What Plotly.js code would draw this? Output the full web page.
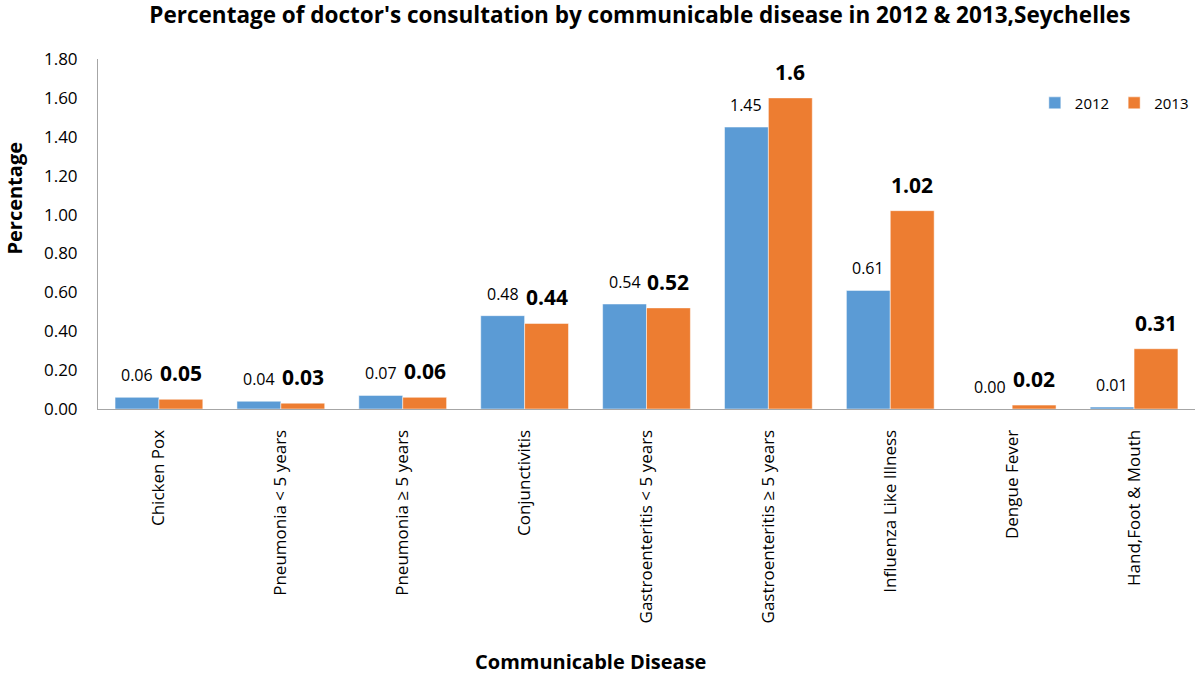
<!DOCTYPE html>
<html>
<head>
<meta charset="utf-8">
<script src="https://cdn.plot.ly/plotly-3.0.1.min.js"></script>
<style>
  html, body { margin: 0; padding: 0; background: #fff; }
  #chart { width: 1196px; height: 675px; }
</style>
</head>
<body>
<div id="chart"></div>
<script>
// Communicable disease consultations, Seychelles
const diseases = [
  "Chicken Pox",
  "Pneumonia < 5 years",
  "Pneumonia \u2265 5 years",
  "Conjunctivitis",
  "Gastroenteritis < 5 years",
  "Gastroenteritis \u2265 5 years",
  "Influenza Like Illness",
  "Dengue Fever",
  "Hand,Foot & Mouth"
];
const pct2012 = [0.06, 0.04, 0.07, 0.48, 0.54, 1.45, 0.61, 0.00, 0.01];
const pct2013 = [0.05, 0.03, 0.06, 0.44, 0.52, 1.6, 1.02, 0.02, 0.31];
const labels2012 = ["0.06", "0.04", "0.07", "0.48", "0.54", "1.45", "0.61", "0.00", "0.01"];
const labels2013 = ["0.05", "0.03", "0.06", "0.44", "0.52", "1.6", "1.02", "0.02", "0.31"];
const yTicks = [0, 0.2, 0.4, 0.6, 0.8, 1.0, 1.2, 1.4, 1.6, 1.8];

const FONT = "Open Sans, Calibri, sans-serif";
const BLUE = "#5b9bd5";
const ORANGE = "#ed7d31";

const margin = { l: 98, r: 1, t: 59, b: 266, autoexpand: false };
const bargap = 0.28;
const plotW = 1196 - margin.l - margin.r;
const catW = plotW / diseases.length;
const barW = catW * (1 - bargap) / 2;

const traces = [
  { type: "bar", name: "2012", x: diseases, y: pct2012,
    marker: { color: BLUE, line: { color: "#ffffff", width: 0.5 } } },
  { type: "bar", name: "2013", x: diseases, y: pct2013,
    marker: { color: ORANGE, line: { color: "#ffffff", width: 0.5 } } }
];

// value labels above each bar
const annotations = [];
diseases.forEach((d, i) => {
  annotations.push({
    x: d, y: pct2012[i], xref: "x", yref: "y",
    text: labels2012[i], showarrow: false,
    xshift: -barW / 2, yshift: 9, yanchor: "bottom",
    font: { family: FONT, size: 16, color: "#000" }
  });
  annotations.push({
    x: d, y: pct2013[i], xref: "x", yref: "y",
    text: "<b>" + labels2013[i] + "</b>", showarrow: false,
    xshift: barW / 2, yshift: 10, yanchor: "bottom",
    font: { family: FONT, size: 21, color: "#000" }
  });
});
annotations.push({
  text: "<b>Percentage</b>", xref: "paper", yref: "paper",
  x: -0.076, y: 0.603, showarrow: false, textangle: -90,
  xanchor: "center", yanchor: "middle",
  font: { family: FONT, size: 20, color: "#000" }
});
annotations.push({
  text: "<b>Communicable Disease</b>", xref: "paper", yref: "paper",
  x: 0.449, y: -0.72, showarrow: false,
  xanchor: "center", yanchor: "middle",
  font: { family: FONT, size: 20, color: "#000" }
});

const layout = {
  width: 1196, height: 675,
  margin: margin,
  paper_bgcolor: "#fff", plot_bgcolor: "#fff",
  title: {
    text: "<b>Percentage of doctor's consultation by communicable disease in 2012 & 2013,Seychelles</b>",
    x: 0.535, xanchor: "center", y: 0.978, yanchor: "middle",
    font: { family: FONT, size: 22.5, color: "#000" }
  },
  barmode: "group", bargap: bargap, bargroupgap: 0,
  showlegend: true,
  legend: {
    orientation: "h", x: 0.854, y: 0.874, xanchor: "left", yanchor: "middle",
    font: { family: FONT, size: 15, color: "#000" },
    bgcolor: "rgba(0,0,0,0)", itemwidth: 30,
    traceorder: "normal"
  },
  xaxis: {
    type: "category", tickangle: -90,
    tickfont: { family: FONT, size: 17, color: "#000" },
    ticklabelstandoff: 13,
    showline: true, linecolor: "#a6a6a6", linewidth: 1,
    ticks: "", showgrid: false, zeroline: false, fixedrange: true
  },
  yaxis: {
    range: [0, 1.8], tickvals: yTicks,
    ticktext: yTicks.map(v => v.toFixed(2)),
    tickfont: { family: FONT, size: 17, color: "#000" },
    ticklabelstandoff: 16,
    showline: true, linecolor: "#a6a6a6", linewidth: 1,
    ticks: "", showgrid: false, zeroline: false,
    fixedrange: true
  },
  annotations: annotations
};

Plotly.newPlot("chart", traces, layout, { displayModeBar: false, staticPlot: true });
</script>
</body>
</html>
